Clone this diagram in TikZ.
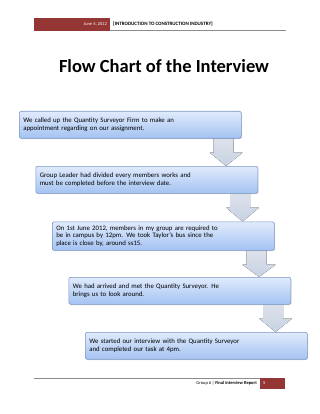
\documentclass[tikz,border=0pt]{standalone}
\usepackage{fontspec}
\setmainfont{Carlito}
\usepackage{xcolor}
\definecolor{hdred}{RGB}{148,54,52}
\definecolor{hdgray}{RGB}{140,140,140}
\definecolor{boxtop}{RGB}{224,235,252}
\definecolor{boxbot}{RGB}{164,194,242}
\definecolor{boxline}{RGB}{122,150,196}
\definecolor{arrtop}{RGB}{222,227,236}
\definecolor{arrbot}{RGB}{200,210,226}
\usetikzlibrary{positioning,calc,shadows,backgrounds}

\tikzset{
  stepbox/.style={draw=boxline, line width=0.6pt, top color=boxtop, bottom color=boxbot,
    rounded corners=2pt, anchor=north west, minimum width=222pt, minimum height=27pt,
    text width=214pt, inner sep=4pt, align=left, font=\fontsize{6.8}{7.4}\selectfont,
    drop shadow={opacity=0.25, shadow xshift=0.8pt, shadow yshift=-0.8pt}},
  flowarrow/.style={top color=arrtop, bottom color=arrbot, draw=none}
}

\begin{document}
\begin{tikzpicture}[x=1pt, y=-1pt]
  \useasboundingbox (0,0) rectangle (320,414);

  % header
  \fill[hdred] (34,18) rectangle (110,31);
  \draw[hdgray, line width=0.5pt] (110,30.5) -- (286,30.5);
  \node[anchor=east, text=white, font=\fontsize{4.5}{5}\selectfont, inner sep=0pt] (hdate) at (107,24.5) {June 4, 2012};
  \node[anchor=west, font=\fontsize{5}{6}\bfseries, inner sep=0pt] (htitle) at (113,24.5) {[INTRODUCTION TO CONSTRUCTION INDUSTRY]};

  % title
  \node[font=\fontsize{18.5}{22}\bfseries, inner sep=0pt] (title) at (164,66) {Flow Chart of the Interview};

  % steps
  \node[stepbox] (s1) at (19,111) {We called up the Quantity Surveyor Firm to make an\\appointment regarding on our assignment.};
  \node[stepbox] (s2) at (35.5,166) {Group Leader had divided every members works and\\must be completed before the interview date.};
  \node[stepbox] (s3) at (52,221.5) {On 1st June 2012, members in my group are required to\\be in campus by 12pm. We took Taylor's bus since the\\place is close by, around ss15.};
  \node[stepbox] (s4) at (68.5,277) {We had arrived and met the Quantity Surveyor. He\\brings us to look around.};
  \node[stepbox] (s5) at (85,332) {We started our interview with the Quantity Surveyor\\and completed our task at 4pm.};

  % block arrows between steps
  \begin{scope}[on background layer]
  \foreach \a/\b in {s1/s2, s2/s3, s3/s4, s4/s5}{
    \fill[flowarrow] let \p1=(\a.south east), \p2=(\b.north) in
      (\x1-28pt,\y1+2pt) -- (\x1-8pt,\y1+2pt) -- (\x1-8pt,\y1-14pt) -- (\x1+1pt,\y1-14pt)
      -- (\x1-15.5pt,\y2) -- (\x1-32pt,\y1-14pt) -- (\x1-28pt,\y1-14pt) -- cycle;
  }
  \end{scope}

  % footer
  \draw[hdgray, line width=0.5pt] (34,378) -- (260,378);
  \fill[hdred] (260,378) rectangle (285,388.5);
  \node[anchor=east, font=\fontsize{4.5}{5}\selectfont, inner sep=0pt] (fgroup) at (257,383.5) {Group 6 | \textbf{Final Interview Report}};
  \node[anchor=west, text=white, font=\fontsize{4.5}{5}\selectfont, inner sep=0pt] (fpage) at (263,383.5) {5};
\end{tikzpicture}
\end{document}
